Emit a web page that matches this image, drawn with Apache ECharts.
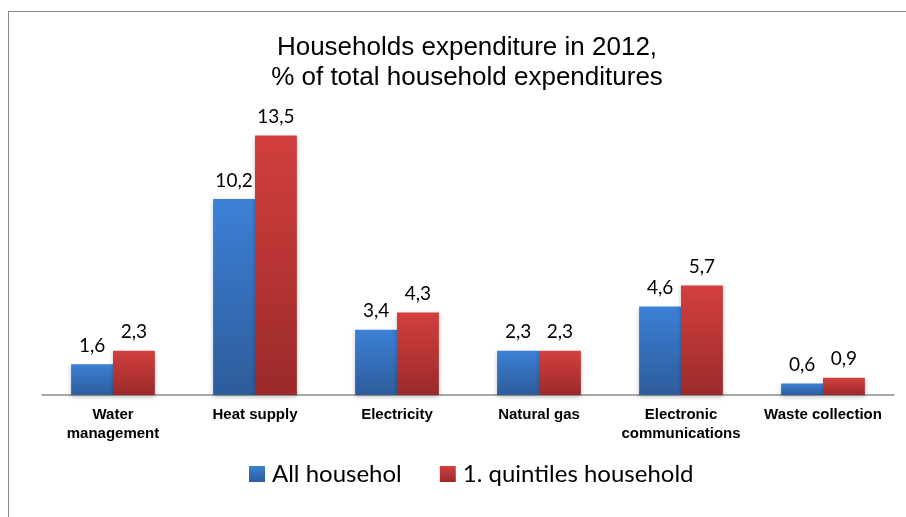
<!DOCTYPE html>
<html>
<head>
<meta charset="utf-8">
<script src="https://cdn.jsdelivr.net/npm/echarts@6/dist/echarts.min.js"></script>
<style>
  html, body { margin: 0; padding: 0; background: #fff; }
  #frame { position: absolute; left: 8px; top: 11px; width: 898px; height: 506px;
           border-left: 1px solid #8a8a8a; border-top: 1px solid #8a8a8a; }
  #main { position: absolute; left: 0; top: 0; width: 906px; height: 517px; }
</style>
</head>
<body>
<div id="frame"></div>
<div id="main"></div>
<script>
  const categories = ['Water\nmanagement', 'Heat supply', 'Electricity', 'Natural gas', 'Electronic\ncommunications', 'Waste collection'];
  const allHouseholds = [1.6, 10.2, 3.4, 2.3, 4.6, 0.6];
  const firstQuintile = [2.3, 13.5, 4.3, 2.3, 5.7, 0.9];
  const seriesNames = ['All househol', '1. quintiles household'];

  function grad(top, bottom) {
    return new echarts.graphic.LinearGradient(0, 0, 0, 1, [
      { offset: 0, color: top },
      { offset: 1, color: bottom }
    ]);
  }

  const labelFmt = function (p) {
    return String(p.value).replace('.', ',');
  };

  const chart = echarts.init(document.getElementById('main'), null, { renderer: 'canvas' });
  chart.setOption({
    animation: false,
    title: {
      text: 'Households expenditure in 2012,\n% of total household expenditures',
      left: 462,
      top: 28,
      textAlign: 'center',
      textStyle: {
        fontFamily: 'Liberation Sans',
        fontWeight: 'normal',
        fontSize: 26,
        lineHeight: 30,
        color: '#000'
      }
    },
    legend: {
      data: seriesNames,
      bottom: 26,
      left: 244,
      icon: 'rect',
      itemWidth: 16,
      itemHeight: 16,
      itemGap: 38,
      textStyle: { fontFamily: 'Lato', fontSize: 24, color: '#000', padding: [0, 0, 0, 2] }
    },
    grid: { left: 42, right: 12, top: 126, bottom: 122 },
    xAxis: {
      type: 'category',
      data: categories,
      axisLine: { lineStyle: { color: '#8c8c8c', width: 1.5 } },
      axisTick: { show: false },
      axisLabel: {
        interval: 0,
        margin: 10,
        fontFamily: 'Liberation Sans',
        fontWeight: 'bold',
        fontSize: 15,
        lineHeight: 19,
        color: '#000'
      }
    },
    yAxis: {
      type: 'value',
      min: 0,
      max: 14,
      show: false
    },
    series: [
      {
        name: seriesNames[0],
        type: 'bar',
        data: allHouseholds,
        barGap: 0,
        barCategoryGap: '41%',
        itemStyle: {
          color: grad('#3c80d6', '#2d5c9b'),
          shadowColor: 'rgba(0,0,0,0.25)',
          shadowBlur: 4,
          shadowOffsetY: 2
        },
        label: {
          show: true,
          position: 'top',
          distance: 9,
          formatter: labelFmt,
          fontFamily: 'Lato',
          fontSize: 19,
          color: '#000'
        }
      },
      {
        name: seriesNames[1],
        type: 'bar',
        data: firstQuintile,
        itemStyle: {
          color: grad('#d23f3e', '#9b2a2a'),
          shadowColor: 'rgba(0,0,0,0.25)',
          shadowBlur: 4,
          shadowOffsetY: 2
        },
        label: {
          show: true,
          position: 'top',
          distance: 9,
          formatter: labelFmt,
          fontFamily: 'Lato',
          fontSize: 19,
          color: '#000'
        }
      }
    ]
  });
</script>
</body>
</html>
